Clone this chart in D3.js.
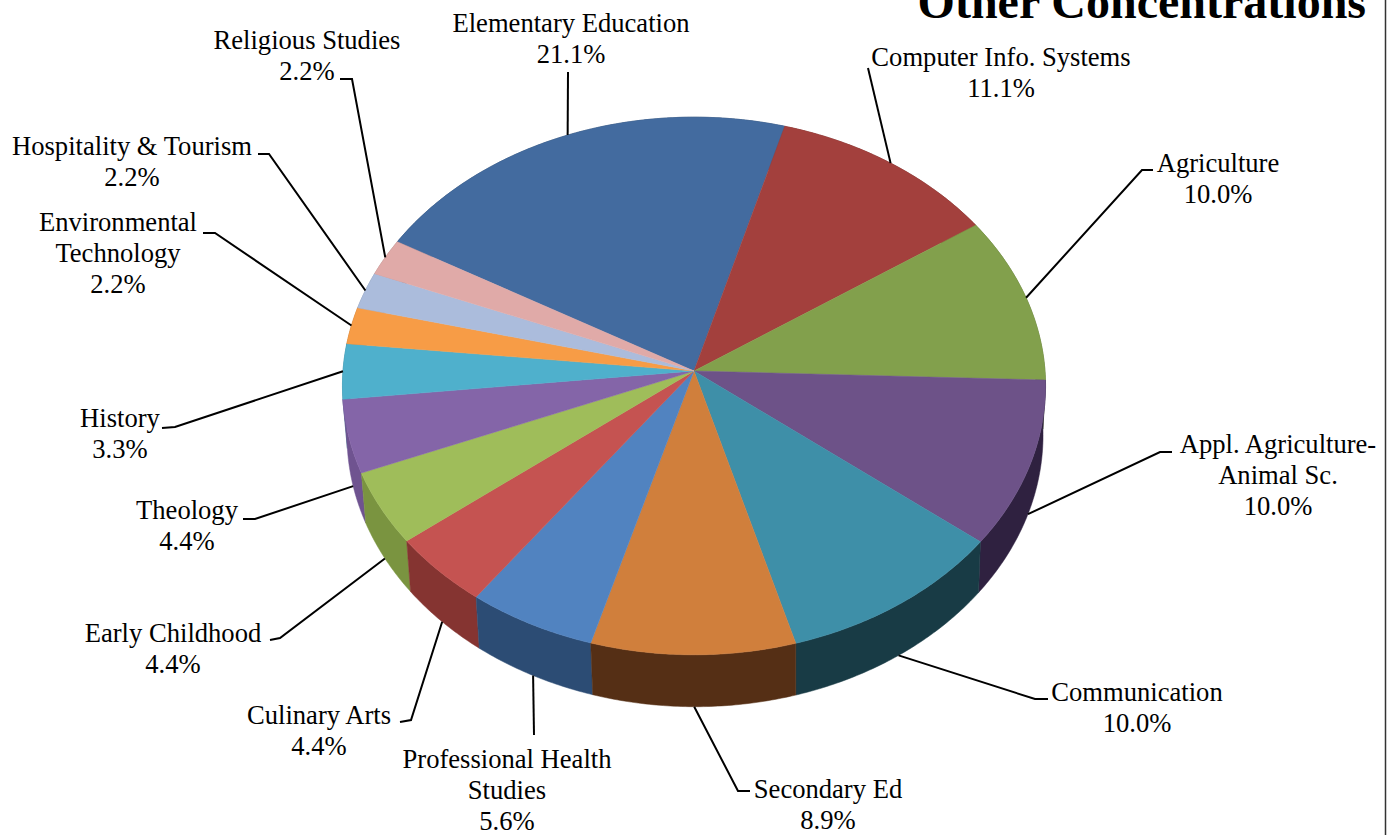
<!DOCTYPE html>
<html>
<head>
<meta charset="utf-8">
<script src="https://cdnjs.cloudflare.com/ajax/libs/d3/7.8.5/d3.min.js"></script>
<style>
  html, body { margin: 0; padding: 0; background: #fff; }
  svg { display: block; }
  text { font-family: "Liberation Serif", serif; fill: #000; }
</style>
</head>
<body>
<div id="chart"></div>
<script>
// Data, clockwise from the Elementary Education slice
const categories = [
    ['Elementary Education'],
    ['Computer Info. Systems'],
    ['Agriculture'],
    ['Appl. Agriculture-', 'Animal Sc.'],
    ['Communication'],
    ['Secondary Ed'],
    ['Professional Health', 'Studies'],
    ['Culinary Arts'],
    ['Early Childhood'],
    ['Theology'],
    ['History'],
    ['Environmental', 'Technology'],
    ['Hospitality & Tourism'],
    ['Religious Studies']
];
const values = [21.1, 11.1, 10.0, 10.0, 10.0, 8.9, 5.6, 4.4, 4.4, 4.4, 3.3, 2.2, 2.2, 2.2];

// Styles
const topColors = ['#436b9f', '#a3403d', '#82a04c', '#6d5288', '#3e8fa8', '#d07f3c', '#5183c0',
    '#c55351', '#9fbd5a', '#8465a8', '#4fb0cc', '#f79c46', '#abbcdc', '#e0aaa8'];
const sideColors = ['#2c4666', '#6b2a28', '#556a32', '#2f2140', '#183b45', '#552f15', '#2c4c74',
    '#853431', '#7a9440', '#6f5390', '#357a8c', '#b06a28', '#7a88a0', '#a07a78'];

// Label layout: text centre x, first baseline y, leader elbow and leader end
const labelX = [571, 1001, 1218, 1278, 1137, 828, 507, 319, 173, 187, 120, 118, 132, 307];
const labelY = [32, 66, 172, 453, 701, 798, 768, 724, 642, 519, 427, 231, 155, 49];
const leaderElbow = [[568, 72], [868, 68], [1142, 170], [1160, 452], [1035, 699], [738, 791], [534, 735],
    [411, 720], [280, 638], [255, 519], [175, 427], [215, 233], [269, 154], [352, 79]];
const leaderEnd = [null, null, [1153, 170], [1172, 452], [1048, 699], [750, 791], null,
    [400, 722], [270, 640], [243, 519], [162, 428], [203, 233], [258, 154], [340, 79]];

const width = 1396;
const height = 835;

let svg = d3.select('#chart').append('svg')
    .attr('width', width)
    .attr('height', height);

// The pie is a tilted disc seen in perspective, so the near edge looks larger
const pieOpt = { cx: 694, cy: 371, rx: 351, ry: 268, persp: 0.0557, depth: 49, shrink: 0.99, lowerShift: 1 };

function project(angle, lower) {
    let X = Math.sin(angle);
    let Y = -Math.cos(angle);
    let s = 1 / (1 - pieOpt.persp * Y);
    let f = lower ? pieOpt.shrink : 1;
    return [
        pieOpt.cx + pieOpt.rx * X * s * f + (lower ? pieOpt.lowerShift : 0),
        pieOpt.cy + pieOpt.ry * Y * s + (lower ? pieOpt.depth * s : 0)
    ];
}

function arcPoints(a0, a1, lower) {
    let n = Math.max(2, Math.ceil(Math.abs(a1 - a0) / 0.01));
    return d3.range(n + 1).map(i => project(a0 + (a1 - a0) * i / n, lower));
}

const pie = d3.pie()
    .sort(null)
    .startAngle(-60.3 * Math.PI / 180)
    .endAngle((360 - 60.3) * Math.PI / 180);

const slices = pie(values);
const line = d3.line();

// Side walls first, back ones before front ones, the top surface then hides what is behind it
let walls = svg.append('g').attr('id', 'walls');
walls.selectAll('path')
    .data(slices.slice().sort((a, b) =>
        Math.cos((b.startAngle + b.endAngle) / 2) - Math.cos((a.startAngle + a.endAngle) / 2)))
    .enter()
    .append('path')
    .attr('d', d => line(arcPoints(d.startAngle, d.endAngle, false)
        .concat(arcPoints(d.endAngle, d.startAngle, true))) + 'Z')
    .attr('fill', d => sideColors[d.index])
    .attr('stroke', d => sideColors[d.index])
    .attr('stroke-width', 0.5);

// Top surface
let tops = svg.append('g').attr('id', 'tops');
tops.selectAll('path')
    .data(slices)
    .enter()
    .append('path')
    .attr('d', d => line([[pieOpt.cx, pieOpt.cy]].concat(arcPoints(d.startAngle, d.endAngle, false))) + 'Z')
    .attr('fill', d => topColors[d.index])
    .attr('stroke', d => topColors[d.index])
    .attr('stroke-width', 0.5);

// Leader lines start at the middle of each slice, on the wall for the near slices
function leaderPoints(d) {
    let mid = (d.startAngle + d.endAngle) / 2;
    let pts = [project(mid, -Math.cos(mid) > 0.2), leaderElbow[d.index]];
    if (leaderEnd[d.index]) pts.push(leaderEnd[d.index]);
    return pts;
}

svg.append('g').attr('id', 'leaders')
    .selectAll('path')
    .data(slices)
    .enter()
    .append('path')
    .attr('d', d => line(leaderPoints(d)))
    .attr('fill', 'none')
    .attr('stroke', '#000')
    .attr('stroke-width', 2);

// Labels, category lines and then the percentage
let labels = svg.append('g').attr('id', 'labels');
slices.forEach(d => {
    let lines = categories[d.index].concat([d.value.toFixed(1) + '%']);
    lines.forEach((t, i) => {
        labels.append('text')
            .attr('x', labelX[d.index])
            .attr('y', labelY[d.index] + i * 31)
            .attr('text-anchor', 'middle')
            .attr('font-size', 26.6)
            .text(t);
    });
});

// Title, cut off by the top of the page
svg.append('text')
    .attr('x', 1366)
    .attr('y', 18)
    .attr('text-anchor', 'end')
    .attr('font-size', 48)
    .attr('font-weight', 'bold')
    .text('Other Concentrations');

// Frame line at the right
svg.append('line')
    .attr('x1', 1385.5)
    .attr('x2', 1385.5)
    .attr('y1', 0)
    .attr('y2', height)
    .attr('stroke', '#333')
    .attr('stroke-width', 1.5);
</script>
</body>
</html>
